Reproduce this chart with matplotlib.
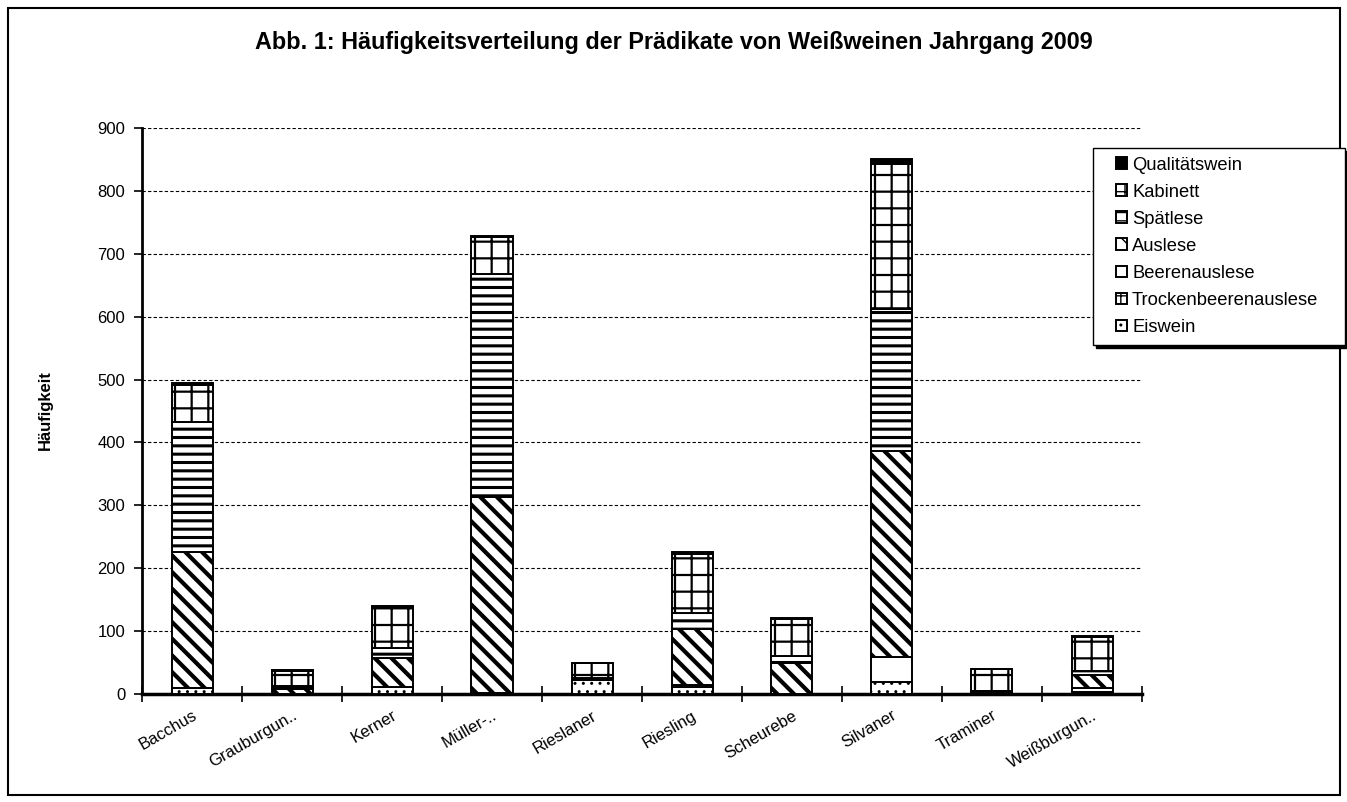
import matplotlib
matplotlib.use("Agg")
import matplotlib.pyplot as plt
from matplotlib.patches import Rectangle
import numpy as np

categories = ["Bacchus", "Grauburgun..", "Kerner", "Müller-..", "Rieslaner",
              "Riesling", "Scheurebe", "Silvaner", "Traminer", "Weißburgun.."]

eiswein = [10, 0, 11, 2, 23, 11, 0, 19, 0, 1]
trockenbeerenauslese = [0, 0, 0, 0, 0, 0, 0, 0, 0, 2]
beerenauslese = [0, 0, 0, 0, 0, 3, 0, 40, 0, 6]
auslese = [216, 8, 47, 311, 0, 90, 50, 327, 2, 21]
spaetlese = [206, 4, 15, 355, 3, 25, 11, 226, 3, 6]
kabinett = [59, 25, 66, 58, 24, 94, 59, 231, 34, 55]
qualitaetswein = [4, 1, 1, 3, 0, 3, 1, 8, 1, 1]

series = [
    ("Eiswein", eiswein, "white", "..", 1.0),
    ("Trockenbeerenauslese", trockenbeerenauslese, "white", "++", 1.0),
    ("Beerenauslese", beerenauslese, "white", None, 1.0),
    ("Auslese", auslese, "white", "\\\\", 3.0),
    ("Spätlese", spaetlese, "white", "--", 2.2),
    ("Kabinett", kabinett, "white", "+", 1.6),
    ("Qualitätswein", qualitaetswein, "black", None, 1.0),
]

plt.rcParams['font.family'] = ['Liberation Sans', 'DejaVu Sans']

W, H = 1347, 802
fig = plt.figure(figsize=(W / 100, H / 100), dpi=100)
ax = fig.add_axes([142 / W, 1 - 694 / H, 1000 / W, 566 / H])

x = np.arange(len(categories))
bottom = np.zeros(len(categories))
handles = []
for name, vals, fc, hatch, hlw in series:
    vals = np.array(vals, dtype=float)
    with plt.rc_context({'hatch.linewidth': hlw}):
        bars = ax.bar(x, vals, width=0.41, bottom=bottom, color=fc,
                      edgecolor='black', linewidth=1.4, hatch=hatch,
                      label=name, zorder=3)
    for b in bars:
        if hasattr(b, 'set_hatch_linewidth'):
            b.set_hatch_linewidth(hlw)
    bottom += vals
    handles.append(bars)

ax.set_xlim(-0.5, len(categories) - 0.5)
ax.set_ylim(0, 900)
ax.set_yticks(np.arange(0, 901, 100))
ax.yaxis.grid(True, color='black', linestyle=(0, (3, 2)), linewidth=0.8)
ax.set_axisbelow(True)

for s in ['top', 'right']:
    ax.spines[s].set_visible(False)
ax.spines['left'].set_linewidth(2)
ax.spines['bottom'].set_linewidth(2.5)

ax.set_xticks(x)
ax.set_xticklabels(categories, rotation=30, ha='right', rotation_mode='anchor',
                   fontsize=12)
ax.tick_params(axis='x', length=0, pad=10)
ax.set_xticks(np.arange(-0.5, len(categories), 1.0), minor=True)
ax.tick_params(axis='x', which='minor', length=12, width=1.2, direction='inout')
ax.tick_params(axis='y', length=6, width=1.2, labelsize=12, pad=6)

# legend box with black shadow (drawn manually)
lx0, ly0, lx1, ly1 = 1093, 148, 1345, 345
fig.patches.append(Rectangle(((lx0 + 3) / W, 1 - (ly1 + 3) / H),
                             (lx1 - lx0) / W, (ly1 - ly0) / H,
                             transform=fig.transFigure, facecolor='black',
                             edgecolor='black', zorder=8))
fig.patches.append(Rectangle((lx0 / W, 1 - ly1 / H),
                             (lx1 - lx0) / W, (ly1 - ly0) / H,
                             transform=fig.transFigure, facecolor='white',
                             edgecolor='black', linewidth=1.0, zorder=9))

leg = fig.legend(handles[::-1], [s[0] for s in series][::-1],
                 loc='upper left', bbox_to_anchor=(1110 / W, 1 - 151 / H),
                 bbox_transform=fig.transFigure, borderaxespad=0,
                 frameon=False, fontsize=13.2, handlelength=0.6,
                 handleheight=0.6, handletextpad=0.3, labelspacing=0.55,
                 borderpad=0.3)
leg.set_zorder(10)

fig.text(0.5, 1 - 43 / H,
         "Abb. 1: Häufigkeitsverteilung der Prädikate von Weißweinen Jahrgang 2009",
         ha='center', va='center', fontsize=16.8, fontweight='bold')
fig.text(45 / W, 1 - 410 / H, "Häufigkeit", rotation=90, ha='center',
         va='center', fontsize=12, fontweight='bold')

fig.patches.append(Rectangle((8 / W, 1 - 795 / H), 1332 / W, 787 / H,
                             transform=fig.transFigure, fill=False,
                             edgecolor='black', linewidth=1.5))

fig.savefig("out.png", dpi=100)
